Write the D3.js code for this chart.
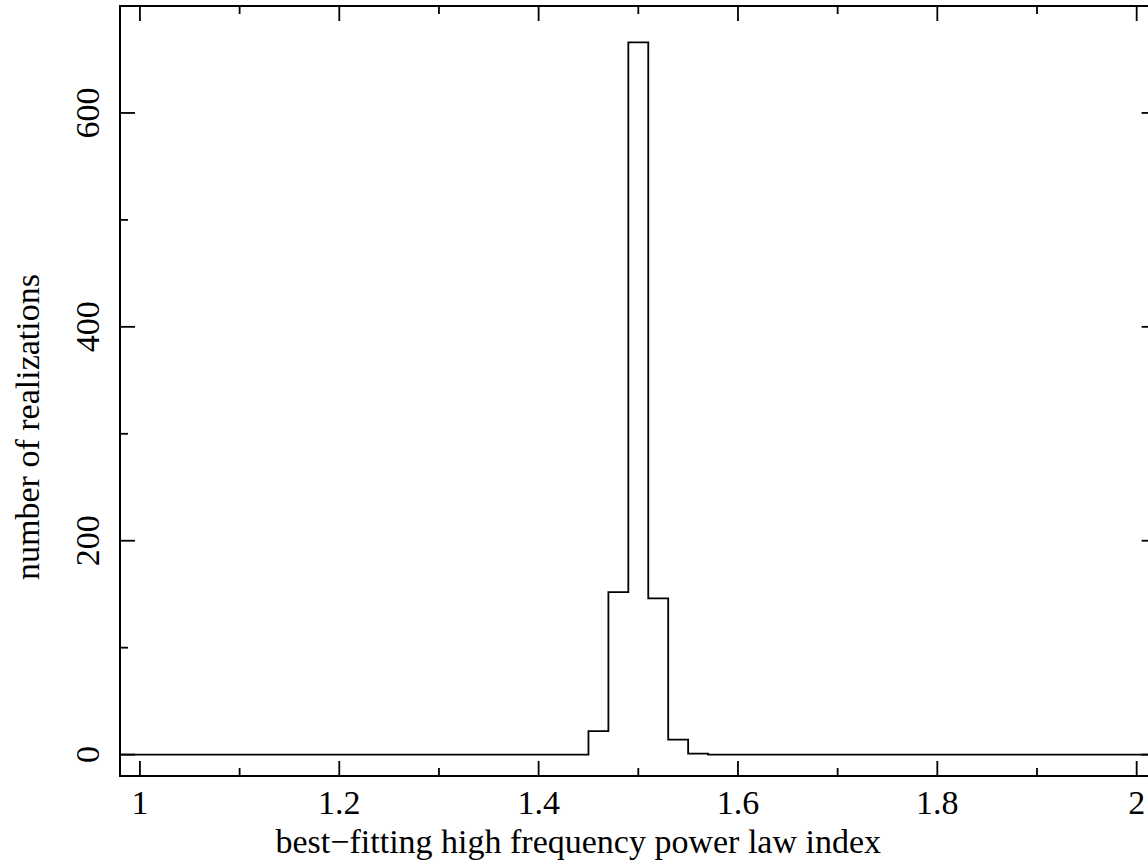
<!DOCTYPE html>
<html>
<head>
<meta charset="utf-8">
<script src="https://cdn.jsdelivr.net/npm/d3@7"></script>
<style>
  html, body { margin: 0; padding: 0; background: #fff; }
  svg text { font-family: "Liberation Serif", "Times New Roman", serif; fill: #000; }
</style>
</head>
<body>
<svg id="chart" width="1148" height="865"></svg>
<script>
// Histogram of best-fitting power law indices: bin centres and counts
const binCenters = [0.98, 1.00, 1.02, 1.04, 1.06, 1.08, 1.10, 1.12, 1.14, 1.16, 1.18,
                    1.20, 1.22, 1.24, 1.26, 1.28, 1.30, 1.32, 1.34, 1.36, 1.38,
                    1.40, 1.42, 1.44, 1.46, 1.48, 1.50, 1.52, 1.54, 1.56, 1.58,
                    1.60, 1.62, 1.64, 1.66, 1.68, 1.70, 1.72, 1.74, 1.76, 1.78,
                    1.80, 1.82, 1.84, 1.86, 1.88, 1.90, 1.92, 1.94, 1.96, 1.98,
                    2.00, 2.02];
const counts     = [0, 0, 0, 0, 0, 0, 0, 0, 0, 0, 0,
                    0, 0, 0, 0, 0, 0, 0, 0, 0, 0,
                    0, 0, 0, 22, 152, 666, 146, 14, 1, 0,
                    0, 0, 0, 0, 0, 0, 0, 0, 0, 0,
                    0, 0, 0, 0, 0, 0, 0, 0, 0, 0,
                    0, 0];
const binWidth = 0.02;

const xMajorTicks = [1, 1.2, 1.4, 1.6, 1.8, 2];
const xMinorTicks = [1.1, 1.3, 1.5, 1.7, 1.9];
const xTickLabels = ["1", "1.2", "1.4", "1.6", "1.8", "2"];
const yMajorTicks = [0, 200, 400, 600];
const yMinorTicks = [100, 300, 500];
const yTickLabels = ["0", "200", "400", "600"];

const xTitle = "best\u2212fitting high frequency power law index";
const yTitle = "number of realizations";

// Plot frame
const frameL = 120, frameR = 1156.6, frameT = 6, frameB = 776;
const svg = d3.select("#chart");

const x = d3.scaleLinear().domain([0.98, 2.02]).range([frameL, frameR]);
const y = d3.scaleLinear().domain([-20, 700]).range([frameB, frameT]);

const majorLen = 15, minorLen = 8;
const ink = "#000";

svg.append("defs").append("clipPath").attr("id", "plotClip")
  .append("rect").attr("x", frameL).attr("y", frameT)
  .attr("width", frameR - frameL).attr("height", frameB - frameT);

// Histogram outline as a step curve
const pts = binCenters.map((c, i) => [c - binWidth / 2, counts[i]]);
pts.push([binCenters[binCenters.length - 1] + binWidth / 2, counts[counts.length - 1]]);
const stepLine = d3.line()
  .x(d => x(d[0]))
  .y(d => y(d[1]))
  .curve(d3.curveStepAfter);

svg.append("path")
  .attr("clip-path", "url(#plotClip)")
  .attr("d", stepLine(pts))
  .attr("fill", "none")
  .attr("stroke", ink)
  .attr("stroke-width", 1.8);

// Frame
svg.append("rect")
  .attr("x", frameL).attr("y", frameT)
  .attr("width", frameR - frameL).attr("height", frameB - frameT)
  .attr("fill", "none").attr("stroke", ink).attr("stroke-width", 2);

const ticks = svg.append("g").attr("stroke", ink).attr("stroke-width", 1.8);

// x ticks on bottom and top edges, pointing inwards
function xTick(v, len) {
  ticks.append("line").attr("x1", x(v)).attr("x2", x(v)).attr("y1", frameB).attr("y2", frameB - len);
  ticks.append("line").attr("x1", x(v)).attr("x2", x(v)).attr("y1", frameT).attr("y2", frameT + len);
}
xMajorTicks.forEach(v => xTick(v, majorLen));
xMinorTicks.forEach(v => xTick(v, minorLen));

// y ticks on left and right edges, pointing inwards
function yTick(v, len) {
  ticks.append("line").attr("x1", frameL).attr("x2", frameL + len).attr("y1", y(v)).attr("y2", y(v));
  ticks.append("line").attr("x1", frameR).attr("x2", frameR - len).attr("y1", y(v)).attr("y2", y(v));
}
yMajorTicks.forEach(v => yTick(v, majorLen));
yMinorTicks.forEach(v => yTick(v, minorLen));

const fontSize = 34;

// x tick labels
svg.append("g").selectAll("text").data(xMajorTicks).join("text")
  .attr("x", d => x(d))
  .attr("y", 814)
  .attr("text-anchor", "middle")
  .attr("font-size", fontSize)
  .text((d, i) => xTickLabels[i]);

// y tick labels, rotated
svg.append("g").selectAll("text").data(yMajorTicks).join("text")
  .attr("transform", d => `translate(99,${y(d)}) rotate(-90)`)
  .attr("text-anchor", "middle")
  .attr("font-size", fontSize)
  .text((d, i) => yTickLabels[i]);

// Axis titles
svg.append("text")
  .attr("x", (frameL + frameR) / 2 - 60)
  .attr("y", 853)
  .attr("text-anchor", "middle")
  .attr("font-size", fontSize)
  .text(xTitle);

svg.append("text")
  .attr("transform", `translate(39,${(frameT + frameB) / 2 + 36}) rotate(-90)`)
  .attr("text-anchor", "middle")
  .attr("font-size", fontSize)
  .text(yTitle);
</script>
</body>
</html>
